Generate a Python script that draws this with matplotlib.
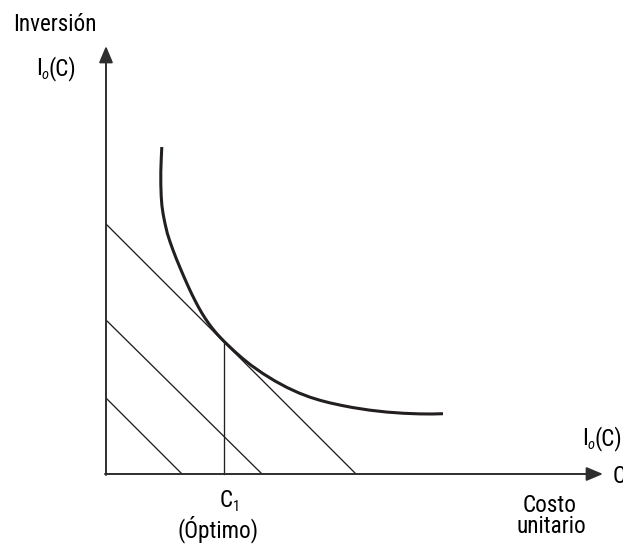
import matplotlib
matplotlib.use("Agg")
import matplotlib.pyplot as plt
from matplotlib import font_manager
from matplotlib.font_manager import FontProperties
from matplotlib.transforms import offset_copy

# Diagram data (origin at the axes corner)
curve_x = [55.8, 55.2, 54.8, 54.8, 55.2, 55.9, 57.2, 59.0, 61.3, 64.0, 67.0, 70.3, 74.0,
           77.8, 81.7, 85.4, 89.0, 92.4, 95.7, 98.9, 102.0, 105.3, 108.5, 111.7, 115.0,
           118.0, 124, 130, 137, 145, 157, 169, 181, 193, 204, 214, 224, 236, 247, 264,
           281, 298, 314, 326, 337]
curve_y = [327, 314, 302, 290, 278, 268.5, 259.5, 250.5, 240.7, 232.3, 223.9, 215.3, 206.4,
           197.5, 188.7, 180.7, 173.5, 167.0, 161.2, 156.1, 151.5, 147.0, 143.0, 139.3, 135.8,
           132.7, 126.9, 121.3, 115.2, 108.8, 100.4, 93.0, 86.5, 81.0, 76.8, 73.7, 71.1, 68.5,
           66.4, 63.8, 61.9, 60.7, 60.1, 60.0, 60.3]

# iso-cost lines: intercept on the y axis and on the x axis
iso_y0 = [250, 154, 76]
iso_x0 = [250, 156, 76]

# optimum C1
opt_x = 118
opt_y = 132

x_axis_end = 497
y_axis_end = 428

ink = '#231f20'


# --- pick a narrow sans font if there is one ---
def find_font():
    entries = font_manager.fontManager.ttflist
    wanted = [('Liberation Sans Narrow', None), ('Open Sans Condensed', None),
              ('Roboto Condensed', None), ('Noto Sans', 'condensed'),
              ('Open Sans', 'condensed'), ('DejaVu Sans', 'condensed')]
    for name, stretch in wanted:
        reg = [f for f in entries if f.name == name and f.style == 'normal'
               and f.weight in (400, 'normal', 'regular')
               and (stretch is None or f.stretch == stretch)]
        if reg:
            ital = [f for f in entries if f.name == name and f.style == 'italic'
                    and f.weight in (400, 'normal', 'regular') and f.stretch == reg[0].stretch]
            r = FontProperties(fname=reg[0].fname)
            i = FontProperties(fname=ital[0].fname) if ital else FontProperties(fname=reg[0].fname)
            return r, i
    return FontProperties(family='Liberation Sans'), FontProperties(family='Liberation Sans', style='italic')


font_reg, font_it = find_font()

fig = plt.figure(figsize=(6.23, 5.44), dpi=100)
ax = fig.add_axes([0, 0, 1, 1])
ax.set_xlim(-106, 517)
ax.set_ylim(-70, 474)
ax.axis('off')
renderer = fig.canvas.get_renderer()

# font size so that "Inversión" is about as wide as in the reference
probe = ax.text(0, 0, 'Inversión', fontproperties=font_reg, fontsize=10)
fs = min(10 * 83 / probe.get_window_extent(renderer).width, 17.5)
probe.remove()
sub_fs = fs * 0.62


def rich(x, y, parts, ha='left'):
    # parts: (text, font, size, dy in pixels)
    items = []
    total = 0
    for s, fp, size, dy in parts:
        t = ax.text(x, y, s, fontproperties=fp, fontsize=size, va='baseline', ha='left')
        w = t.get_window_extent(renderer).width
        items.append((t, total, dy))
        total += w
    start = -total / 2 if ha == 'center' else 0
    for t, off, dy in items:
        t.set_transform(offset_copy(ax.transData, fig=fig, x=start + off, y=dy, units='dots'))


# axes with arrows
arrow = dict(arrowstyle='-|>,head_length=1.0,head_width=0.42', color='#2e2e2e',
             lw=1.4, shrinkA=0, shrinkB=0, mutation_scale=10)
ax.annotate('', xy=(0, y_axis_end), xytext=(0, -1), arrowprops=arrow)
ax.annotate('', xy=(x_axis_end, 0), xytext=(-1, 0), arrowprops=arrow)

# iso-cost lines
for y0, x0 in zip(iso_y0, iso_x0):
    ax.plot([0, x0], [y0, 0], color=ink, lw=0.95, solid_capstyle='butt')

# vertical line at the optimum
ax.plot([opt_x, opt_x], [0, opt_y], color=ink, lw=0.95)

# investment curve
ax.plot(curve_x, curve_y, color=ink, lw=2.2, solid_capstyle='butt', solid_joinstyle='round')

io_parts = [('I', font_reg, fs, 0), ('o', font_it, sub_fs, -4), ('(C)', font_reg, fs, 0)]

rich(-93, 443, [('Inversión', font_reg, fs, 0)])
rich(-70, 399, io_parts)
rich(476, 29, io_parts)
rich(507, -9, [('C', font_reg, fs, 0)])
rich(444, -38, [('Costo', font_reg, fs, 0)], ha='center')
rich(445, -59, [('unitario', font_reg, fs, 0)], ha='center')
rich(opt_x + 6, -33, [('C', font_reg, fs, 0), ('1', font_reg, sub_fs, -4)], ha='center')
rich(opt_x - 6, -63, [('(Óptimo)', font_reg, fs, 0)], ha='center')

fig.savefig('out.png', dpi=100)
